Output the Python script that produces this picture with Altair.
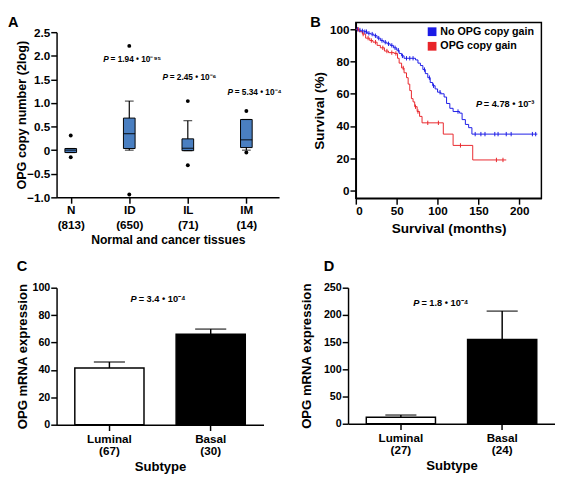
import altair as alt
import pandas as pd

FONT = "Liberation Sans"
BLUE_BOX = "#4a7fc1"
C_NO = "#1a1ae6"
C_GAIN = "#e8252a"

# ---------------- Panel A: box plots ----------------
tissues = ["N", "ID", "IL", "IM"]
tissue_n = ["(813)", "(650)", "(71)", "(14)"]
box_q1 = [-0.05, 0.035, -0.01, 0.055]
box_med = [0.0, 0.35, 0.04, 0.22]
box_q3 = [0.035, 0.68, 0.24, 0.65]
whisker_lo = [-0.05, 0.0, -0.01, 0.0]
whisker_hi = [0.035, 1.04, 0.625, 0.65]
dot_hi = [0.31, 2.21, 1.04, 0.83]
dot_lo = [-0.15, -0.94, -0.32, -0.05]
p_a_text = ["= 1.94 • 10⁻⁹⁵", "= 2.45 • 10⁻⁶", "= 5.34 • 10⁻⁴"]
p_a_x = [0.556, 1.567, 2.677]
p_a_y = [1.92, 1.55, 1.24]
a_ticks = [-1, -0.5, 0, 0.5, 1, 1.5, 2, 2.5]

# ---------------- Panel B: Kaplan-Meier ----------------
no_gain_t = [0, 3, 6, 10, 14, 18, 22, 26, 30, 34, 38, 42, 46, 50, 53, 56, 59, 73, 76, 79, 82,
             85, 88, 91, 94, 97, 100, 104, 108, 111, 115, 119, 127, 130, 134, 138, 142, 222]
no_gain_s = [100, 99.5, 99, 98.5, 97.5, 97, 96, 94.5, 93, 92, 91, 90, 88.5, 87, 85, 83.5, 82, 81,
             79, 77.5, 75, 72.5, 70, 67, 65, 63, 61, 60, 58, 54, 51, 49, 48, 44, 41, 39, 35, 35]
gain_t = [0, 4, 8, 12, 17, 21, 26, 30, 35, 40, 47, 51, 53, 56, 59, 62, 64, 66, 68, 70, 72, 75,
          78, 81, 107, 119, 143, 184]
gain_s = [100, 98.5, 97, 94.5, 93, 92, 90, 88.5, 86.5, 85.5, 85, 82, 79, 76, 73, 70, 66, 62, 57,
          55, 52, 49, 46, 42, 35, 28, 19, 19]
no_gain_cens = [2, 5, 8, 11, 13, 16, 20, 24, 28, 32, 36, 40, 44, 48, 52, 57, 62, 66, 70, 84, 90,
                95, 103, 125, 146, 153, 158, 170, 174, 184, 190, 216, 220]
gain_cens = [3, 9, 15, 19, 24, 33, 38, 44, 49, 58, 73, 76, 88, 101, 128, 172, 180]
groups = ["No OPG copy gain", "OPG copy gain"]
b_xticks = [0, 50, 100, 150, 200]
b_yticks = [0, 20, 40, 60, 80, 100]

# ---------------- Panels C / D: bars ----------------
subtypes = ["Luminal", "Basal"]
c_n = ["(67)", "(30)"]
c_mean = [41.4, 66.0]
c_err = [45.8, 69.8]
d_n = ["(27)", "(24)"]
d_mean = [12.0, 155.0]
d_err = [16.0, 207.0]


def step_val(ts, ss, t):
    v = ss[0]
    for ti, si in zip(ts, ss):
        if ti <= t:
            v = si
    return v


def letter(txt, dx, offset):
    return alt.TitleParams(text=txt, anchor="start", frame="group", dx=dx, fontSize=15,
                           font=FONT, fontWeight="bold", color="black", offset=offset)


# ----- A -----
dfA = pd.DataFrame({"idx": list(range(4)), "tissue": tissues, "q1": box_q1, "med": box_med,
                    "q3": box_q3, "wlo": whisker_lo, "whi": whisker_hi})
dfA_dots = pd.DataFrame({"idx": list(range(4)) * 2, "v": dot_hi + dot_lo})
dfA_p = pd.DataFrame({"x": p_a_x, "y": p_a_y, "t": p_a_text})

label_a = "[" + ",".join(f"['{t}','{n}']" for t, n in zip(tissues, tissue_n)) + "][datum.value]"
xA = alt.X("idx:Q", scale=alt.Scale(domain=[-0.159, 3.476], nice=False, zero=False),
           axis=alt.Axis(values=[0, 1, 2, 3], tickCount=20, labelExpr=label_a, labelFontSize=12,
                         labelLineHeight=15, labelPadding=2, title="Normal and cancer tissues",
                         titleFontSize=12.5, titlePadding=4, labelOverlap=False))
yscaleA = alt.Scale(domain=[-1, 2.5], range=[180, 10], nice=False, zero=False)
yA = alt.Y("wlo:Q", scale=yscaleA,
           axis=alt.Axis(values=a_ticks, tickCount=20,
                         labelExpr="datum.value == 0 ? '0' : format(datum.value, '.1f')",
                         labelFontSize=12, labelPadding=1, title="OPG copy number (2log)",
                         titleFontSize=13, titlePadding=1.5, labelOverlap=False,
                         minExtent=27, maxExtent=27))
baseA = alt.Chart(dfA)
whisk = baseA.mark_rule(color="black", strokeWidth=1.2).encode(x=xA, y=yA, y2="whi:Q")
cap_hi = baseA.mark_tick(orient="horizontal", color="black", size=9, thickness=1.2).encode(
    x="idx:Q", y=alt.Y("whi:Q", scale=yscaleA))
cap_lo = baseA.mark_tick(orient="horizontal", color="black", size=9, thickness=1.2).encode(
    x="idx:Q", y=alt.Y("wlo:Q", scale=yscaleA))
box = baseA.mark_bar(color=BLUE_BOX, stroke="black", strokeWidth=1, size=12).encode(
    x="idx:Q", y=alt.Y("q1:Q", scale=yscaleA), y2="q3:Q")
med = baseA.mark_tick(orient="horizontal", color="black", size=12, thickness=1.3).encode(
    x="idx:Q", y=alt.Y("med:Q", scale=yscaleA))
dots = alt.Chart(dfA_dots).mark_circle(color="black", size=16, opacity=1).encode(
    x="idx:Q", y=alt.Y("v:Q", scale=yscaleA))
pA1 = alt.Chart(dfA_p).mark_text(text="P", font=FONT, fontSize=8.5, fontStyle="italic",
                                 fontWeight="bold", align="left", color="black").encode(
    x="x:Q", y=alt.Y("y:Q", scale=yscaleA))
pA2 = alt.Chart(dfA_p).mark_text(font=FONT, fontSize=8.5, fontWeight="bold", align="left",
                                 dx=7.5, color="black").encode(
    x="x:Q", y=alt.Y("y:Q", scale=yscaleA), text="t:N")
chartA = alt.layer(whisk, box, cap_hi, cap_lo, med, dots, pA1, pA2).properties(
    width=229, height=180, title=letter("A", -50, -8))

# ----- B -----
dfB = pd.DataFrame({"t": no_gain_t + gain_t, "s": no_gain_s + gain_s,
                    "g": [groups[0]] * len(no_gain_t) + [groups[1]] * len(gain_t)})
dfBc = pd.DataFrame({
    "t": no_gain_cens + gain_cens,
    "s": [step_val(no_gain_t, no_gain_s, t) for t in no_gain_cens]
         + [step_val(gain_t, gain_s, t) for t in gain_cens],
    "g": [groups[0]] * len(no_gain_cens) + [groups[1]] * len(gain_cens)})
colorB = alt.Scale(domain=groups, range=[C_NO, C_GAIN])
xB = alt.X("t:Q", scale=alt.Scale(domain=[0, 227], nice=False),
           axis=alt.Axis(values=b_xticks, tickCount=20, labelFontSize=12, labelPadding=2,
                         title="Survival (months)", titleFontSize=14, titlePadding=5,
                         labelOverlap=False))
yB = alt.Y("s:Q", scale=alt.Scale(domain=[-4.8, 104.2], nice=False, zero=False),
           axis=alt.Axis(values=b_yticks, tickCount=20, labelFontSize=12, labelPadding=1,
                         title="Survival (%)", titleFontSize=14, titlePadding=2,
                         labelOverlap=False, minExtent=28, maxExtent=28))
lines = alt.Chart(dfB).mark_line(interpolate="step-after", strokeWidth=1).encode(
    x=xB, y=yB, color=alt.Color("g:N", scale=colorB, legend=None), detail="g:N")
cens = alt.Chart(dfBc).mark_point(shape="M0,-1L0,1", size=20, strokeWidth=1, filled=False,
                                  opacity=1).encode(
    x="t:Q", y="s:Q", color=alt.Color("g:N", scale=colorB, legend=None))
legB = alt.Chart(dfB).mark_square(size=81, opacity=1).encode(
    x="t:Q", y="s:Q",
    color=alt.Color("g:N", scale=colorB,
                    legend=alt.Legend(orient="none", legendX=73, legendY=4, title=None,
                                      labelFont=FONT, labelFontSize=11, labelFontWeight="bold",
                                      labelColor="black", symbolType="square", symbolSize=81,
                                      symbolStrokeWidth=0, rowPadding=3, padding=0,
                                      labelOffset=3))
).transform_filter("datum.t < 0")
dfBp = pd.DataFrame({"t": [147], "s": [53.6], "txt": ["= 4.78 • 10⁻³"]})
pB1 = alt.Chart(dfBp).mark_text(text="P", font=FONT, fontSize=9.5, fontStyle="italic",
                                fontWeight="bold", align="left", color="black").encode(x="t:Q", y="s:Q")
pB2 = alt.Chart(dfBp).mark_text(font=FONT, fontSize=9.5, fontWeight="bold", align="left", dx=8,
                                color="black").encode(x="t:Q", y="s:Q", text="txt:N")
chartB = alt.layer(legB, lines, cens, pB1, pB2).properties(
    width=191, height=181, title=letter("B", -47, -8),
    view=alt.ViewBackground(stroke="black", strokeWidth=1.5))


# ----- C / D -----
def bar_panel(means, errs, ns, ymax, ystep, ptxt, p_px, p_y, ltr, ldx, height, ytp, yext):
    df = pd.DataFrame({"sub": subtypes, "m": means, "e": errs})
    lab = ("[" + ",".join(f"['{s}','{n}']" for s, n in zip(subtypes, ns))
           + "][indexof(" + str(subtypes) + ", datum.value)]")
    x = alt.X("sub:N", sort=subtypes,
              scale=alt.Scale(paddingInner=0.317, paddingOuter=0.18),
              axis=alt.Axis(labelExpr=lab, labelAngle=0, labelFontSize=12, labelLineHeight=13,
                            labelPadding=3, title="Subtype", titleFontSize=13.5, titlePadding=3,
                            labelOverlap=False))
    ysc = alt.Scale(domain=[0, ymax], nice=False)
    y = alt.Y("m:Q", scale=ysc,
              axis=alt.Axis(values=list(range(0, ymax + 1, ystep)), tickCount=20,
                            labelFontSize=11, labelPadding=1, title="OPG mRNA expression",
                            titleFontSize=13.5, titlePadding=ytp, labelOverlap=False,
                            minExtent=yext, maxExtent=yext))
    base = alt.Chart(df)
    err = base.mark_rule(color="black", strokeWidth=1.5).encode(x=x, y=y, y2="e:Q")
    cap = base.mark_tick(orient="horizontal", color="black", size=32, thickness=1.5).encode(
        x=alt.X("sub:N", sort=subtypes), y=alt.Y("e:Q", scale=ysc))
    bars = base.mark_bar(stroke="black", strokeWidth=1.5).encode(
        x=alt.X("sub:N", sort=subtypes), y=alt.Y("m:Q", scale=ysc),
        fill=alt.Fill("sub:N", scale=alt.Scale(domain=subtypes, range=["white", "black"]),
                      legend=None))
    dfp = pd.DataFrame({"y": [p_y], "t": [ptxt]})
    p1 = alt.Chart(dfp).mark_text(text="P", font=FONT, fontSize=9.5, fontStyle="italic",
                                  fontWeight="bold", align="left", color="black").encode(
        x=alt.value(p_px), y=alt.Y("y:Q", scale=ysc))
    p2 = alt.Chart(dfp).mark_text(font=FONT, fontSize=9.5, fontWeight="bold", align="left",
                                  dx=8.5, color="black").encode(
        x=alt.value(p_px), y=alt.Y("y:Q", scale=ysc), text="t:N")
    return alt.layer(err, cap, bars, p1, p2).properties(
        width=213, height=height, title=letter(ltr, ldx, 8))


chartC = bar_panel(c_mean, c_err, c_n, 100, 20, "= 3.4 • 10⁻⁴", 76, 92, "C", -41, 141, 1, 27)
chartD = bar_panel(d_mean, d_err, d_n, 250, 50, "= 1.8 • 10⁻⁴", 67, 221, "D", -25, 140, 6, 30)

row1 = alt.hconcat(chartA, chartB, spacing=28).resolve_scale(color="independent",
                                                             fill="independent")
row2 = alt.hconcat(chartC, chartD, spacing=36).resolve_scale(color="independent",
                                                             fill="independent")
chart = alt.vconcat(row1, row2, spacing=13).resolve_scale(
    color="independent", fill="independent"
).properties(
    padding={"left": 0, "top": 0, "right": 0, "bottom": 0}
).configure(font=FONT).configure_view(stroke=None).configure_axis(
    domainColor="black", domainWidth=1.5, tickColor="black", tickWidth=1.5, tickSize=6,
    labelFont=FONT, labelFontWeight="bold", labelColor="black", titleFont=FONT,
    titleFontWeight="bold", titleColor="black", grid=False, labelOverlap=False
).configure_title(font=FONT, fontWeight="bold", color="black")

chart.save("out.html", embed_options={"renderer": "svg", "actions": False})
